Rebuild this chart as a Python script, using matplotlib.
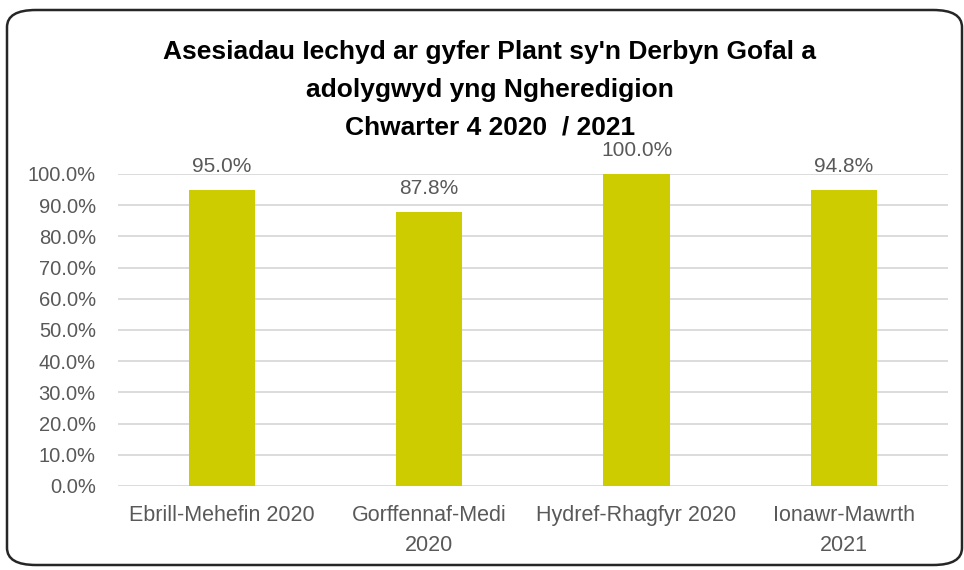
import matplotlib
matplotlib.use("Agg")
import matplotlib.pyplot as plt
from matplotlib.patches import FancyBboxPatch
from matplotlib.ticker import FuncFormatter

# data
quarters = ["Ebrill-Mehefin 2020", "Gorffennaf-Medi\n2020", "Hydref-Rhagfyr 2020", "Ionawr-Mawrth\n2021"]
values = [95.0, 87.8, 100.0, 94.8]
y_ticks = [0, 10, 20, 30, 40, 50, 60, 70, 80, 90, 100]

title = "Asesiadau Iechyd ar gyfer Plant sy'n Derbyn Gofal a\nadolygwyd yng Ngheredigion\nChwarter 4 2020  / 2021"

font = ["Liberation Sans", "DejaVu Sans"]
bar_color = "#CCCC00"
grey = "#595959"

fig = plt.figure(figsize=(9.64, 5.70), dpi=100)
ax = fig.add_axes([0.1224, 0.1474, 0.8606, 0.5474])

x = range(len(quarters))
bars = ax.bar(x, values, width=0.32, color=bar_color, zorder=3)

ax.set_ylim(0, 100)
ax.set_xlim(-0.5, len(quarters) - 0.5)
ax.set_yticks(y_ticks)
ax.yaxis.set_major_formatter(FuncFormatter(lambda v, p: f"{v:.1f}%"))
ax.set_xticks(list(x))
ax.set_xticklabels(quarters, linespacing=1.55)
ax.grid(axis="y", color="#d9d9d9", linewidth=1.3, zorder=0)
for s in ax.spines.values():
    s.set_visible(False)
ax.tick_params(length=0, colors=grey)
ax.tick_params(axis="y", labelsize=14.5, pad=16)
ax.tick_params(axis="x", labelsize=15.5, pad=14)
for lab in ax.get_xticklabels() + ax.get_yticklabels():
    lab.set_family(font)
    lab.set_color(grey)

for b, v in zip(bars, values):
    ax.annotate(f"{v:.1f}%", (b.get_x() + b.get_width() / 2, v),
                xytext=(0, 10), textcoords="offset points",
                ha="center", va="bottom", fontsize=15, color=grey,
                family=font, clip_on=False)

fig.text(0.508, 0.93, title, ha="center", va="top", fontsize=19,
         fontweight="bold", family=font, color="black", linespacing=1.72)

border = FancyBboxPatch((7 / 964, 5 / 570), 955 / 964, 555 / 570,
                        boxstyle="round,pad=0,rounding_size=0.03",
                        transform=fig.transFigure, fill=False,
                        edgecolor="#262626", linewidth=1.8)
fig.patches.append(border)

fig.savefig("out.png", dpi=100)
